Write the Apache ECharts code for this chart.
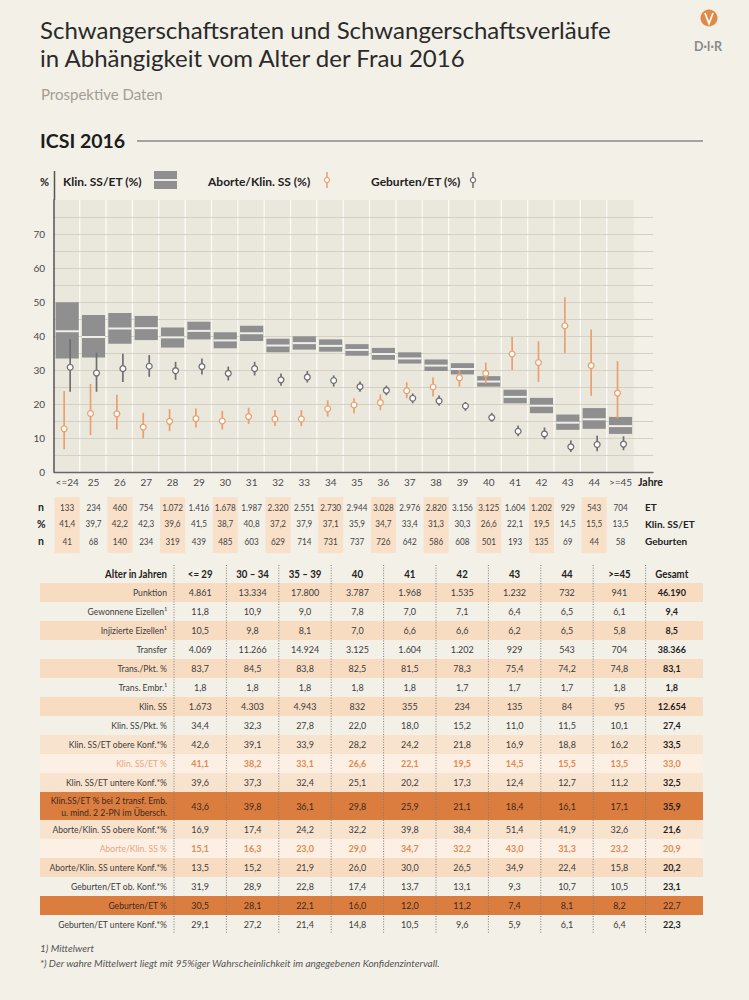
<!DOCTYPE html>
<html><head><meta charset="utf-8">
<script src="https://cdn.jsdelivr.net/npm/echarts@6/dist/echarts.min.js"></script>
<style>html,body{margin:0;padding:0;background:#f3f0e8;}#main{width:749px;height:1000px;}</style>
</head><body><div id="main"></div>
<script>
// ---------- chart data (per age year) ----------
const ageCats = ['<=24','25','26','27','28','29','30','31','32','33','34','35','36','37','38','39','40','41','42','43','44','>=45'];
const etCounts = [133,234,460,754,1072,1416,1678,1987,2320,2551,2730,2944,3028,2976,2820,3156,3125,1604,1202,929,543,704];
const klinSSETpct = [41.4,39.7,42.2,42.3,39.6,41.5,38.7,40.8,37.2,37.9,37.1,35.9,34.7,33.4,31.3,30.3,26.6,22.1,19.5,14.5,15.5,13.5];
const geburtenCounts = [41,68,140,234,319,439,485,603,629,714,731,737,726,642,586,608,501,193,135,69,44,58];
const klinUpper = [49.9,46.2,46.8,45.9,42.5,44.2,41.1,43.0,39.2,39.9,39.0,37.6,36.5,35.2,33.1,32.0,28.2,24.2,21.8,16.9,18.8,16.2];
const klinLower = [33.4,33.7,37.7,38.8,36.6,39.0,36.4,38.5,35.2,36.0,35.4,34.2,33.0,31.9,29.7,28.7,25.1,20.2,17.3,12.4,12.7,11.2];
const aborteMean = [12.7,17.2,17.1,13.2,14.9,15.7,15.0,16.3,15.6,15.6,18.6,19.7,20.4,23.9,25.0,27.7,29.0,34.7,32.2,43.0,31.3,23.2];
const aborteUpper = [23.8,25.9,22.7,17.4,18.5,18.7,18.0,18.9,18.2,18.2,21.1,21.7,22.8,26.4,27.8,30.0,32.2,39.8,38.4,51.4,41.9,32.6];
const aborteLower = [6.7,10.9,12.5,9.9,12.0,13.1,12.5,14.1,13.5,13.5,16.3,17.3,18.2,21.7,22.2,25.1,26.0,30.0,26.5,34.9,22.4,15.8];
const geburtenMean = [30.8,29.1,30.4,31.1,29.8,31.0,29.0,30.4,27.1,27.9,26.9,25.1,24.0,21.7,20.9,19.4,16.0,12.0,11.2,7.4,8.1,8.2];
const geburtenUpper = [39.1,35.1,34.8,34.4,32.4,33.4,31.0,32.4,29.0,29.7,28.4,26.6,25.4,23.1,22.5,20.6,17.4,13.7,13.1,9.3,10.7,10.5];
const geburtenLower = [23.6,23.6,26.5,28.0,27.1,28.7,26.9,28.4,25.4,26.3,25.1,23.6,22.6,20.2,19.5,18.0,14.8,10.5,9.6,5.9,6.1,6.4];
const yTickLabels = [0,10,20,30,40,50,60,70];

// ---------- table data (age groups) ----------
const tableCols = ['<= 29','30 – 34','35 – 39','40','41','42','43','44','>=45','Gesamt'];
const tableRowLabels = ['Punktion','Gewonnene Eizellen¹','Injizierte Eizellen¹','Transfer','Trans./Pkt. %','Trans. Embr.¹','Klin. SS','Klin. SS/Pkt. %','Klin. SS/ET obere Konf.*%','Klin. SS/ET %','Klin. SS/ET untere Konf.*%','Klin.SS/ET % bei 2 transf. Emb.\nu. mind. 2 2-PN im Übersch.','Aborte/Klin. SS obere Konf.*%','Aborte/Klin. SS %','Aborte/Klin. SS untere Konf.*%','Geburten/ET ob. Konf.*%','Geburten/ET %','Geburten/ET untere Konf.*%'];
const punktion = [4861,13334,17800,3787,1968,1535,1232,732,941,46190];
const gewonneneEizellen = [11.8,10.9,9.0,7.8,7.0,7.1,6.4,6.5,6.1,9.4];
const injizierteEizellen = [10.5,9.8,8.1,7.0,6.6,6.6,6.2,6.5,5.8,8.5];
const transfer = [4069,11266,14924,3125,1604,1202,929,543,704,38366];
const transPkt = [83.7,84.5,83.8,82.5,81.5,78.3,75.4,74.2,74.8,83.1];
const transEmbr = [1.8,1.8,1.8,1.8,1.8,1.7,1.7,1.7,1.8,1.8];
const klinSS = [1673,4303,4943,832,355,234,135,84,95,12654];
const klinSSPkt = [34.4,32.3,27.8,22.0,18.0,15.2,11.0,11.5,10.1,27.4];
const klinSSETOben = [42.6,39.1,33.9,28.2,24.2,21.8,16.9,18.8,16.2,33.5];
const klinSSET = [41.1,38.2,33.1,26.6,22.1,19.5,14.5,15.5,13.5,33.0];
const klinSSETUnten = [39.6,37.3,32.4,25.1,20.2,17.3,12.4,12.7,11.2,32.5];
const klinSSET2PN = [43.6,39.8,36.1,29.8,25.9,21.1,18.4,16.1,17.1,35.9];
const aborteOben = [16.9,17.4,24.2,32.2,39.8,38.4,51.4,41.9,32.6,21.6];
const aborte = [15.1,16.3,23.0,29.0,34.7,32.2,43.0,31.3,23.2,20.9];
const aborteUnten = [13.5,15.2,21.9,26.0,30.0,26.5,34.9,22.4,15.8,20.2];
const geburtenOben = [31.9,28.9,22.8,17.4,13.7,13.1,9.3,10.7,10.5,23.1];
const geburten = [30.5,28.1,22.1,16.0,12.0,11.2,7.4,8.1,8.2,22.7];
const geburtenUnten = [29.1,27.2,21.4,14.8,10.5,9.6,5.9,6.1,6.4,22.3];
const tableRows = [punktion,gewonneneEizellen,injizierteEizellen,transfer,transPkt,transEmbr,klinSS,klinSSPkt,klinSSETOben,klinSSET,klinSSETUnten,klinSSET2PN,aborteOben,aborte,aborteUnten,geburtenOben,geburten,geburtenUnten];
const integerRows = [true,false,false,true,false,false,true,false,false,false,false,false,false,false,false,false,false,false];

// ---------- styles / layout ----------
const FONT = "Lato, 'Open Sans', sans-serif";
const BG = '#f3f0e8';
const PEACH = '#f8dcc2', SOFT = '#f8e3cf', PALE = '#fcefe3', DARK = '#dc7d40';
const ORANGE_LINE = '#e9a06c', GRAY_LINE = '#707070';
const rowStyles = [
  {bg:PEACH},{bg:null},{bg:PEACH},{bg:null},{bg:PEACH},{bg:null},{bg:PEACH},{bg:null},
  {bg:SOFT},{bg:PALE,orange:true},{bg:SOFT},{bg:DARK,dark:true,h:28},
  {bg:SOFT},{bg:PALE,orange:true},{bg:PEACH},{bg:null},{bg:DARK,dark:true,gesamtNormal:true},{bg:null}
];
const ROW_H = 19;
const rowHeights = [ROW_H].concat(rowStyles.map(s => s.h || ROW_H)); // header first
const rowTops = []; let acc = 0; rowHeights.forEach(h => { rowTops.push(acc); acc += h; });
const TABLE_H = acc;

const CAT_W = 26.35, CHART_LEFT = 54, CHART_W = 599;
const COL_W = 52.4, TABLE_LEFT = 40, TABLE_W = 663, LABEL_W = 134;

function fmtInt(n){ return String(n).replace(/\B(?=(\d{3})+(?!\d))/g,'.'); }
function fmtDec(n){ return n.toFixed(1).replace('.',','); }
function txt(x, y, text, o){
  o = o || {};
  return {type:'text', x:x, y:y, scaleX:o.sx||1, style:{x:0,y:0,text:text,align:o.align||'center',verticalAlign:'middle',
    fill:o.color||'#3a3a3a',fontSize:o.size||10,fontWeight:o.bold?'bold':'normal',fontStyle:o.italic?'italic':'normal',fontFamily:FONT,lineHeight:o.lh||12}};
}
function gtext(x, y, text, o){
  o = o || {};
  return {type:'text', style:{x:x, y:y, text:text, align:o.align||'left', verticalAlign:'middle', fill:o.color||'#222',
    fontSize:o.size||10.5, fontWeight:o.bold===false?'normal':'bold', fontStyle:o.italic?'italic':'normal', fontFamily:FONT}};
}

const chart = echarts.init(document.getElementById('main'), null, {renderer:'svg', width:749, height:1000});

function bandItem(params, api){
  const i = api.value(0);
  const a = api.coord([i-0.5, 80]), b = api.coord([i+0.5, 0]);
  const ch = [{type:'rect', shape:{x:a[0], y:a[1], width:b[0]-a[0], height:b[1]-a[1]}, style:{fill:'#eae7dd'}}];
  if (i < ageCats.length-1) ch.push({type:'rect', shape:{x:b[0]-1.25, y:a[1], width:2.5, height:b[1]-a[1]}, style:{fill:'#fcfbf8'}});
  return {type:'group', children:ch};
}
function boxItem(params, api){
  const i = api.value(0);
  const lo = api.coord([i, api.value(1)]), hi = api.coord([i, api.value(2)]), m = api.coord([i, api.value(3)]);
  const w = api.size([1,0])[0]*0.88;
  return {type:'group', children:[
    {type:'rect', shape:{x:lo[0]-w/2, y:hi[1], width:w, height:lo[1]-hi[1]}, style:{fill:'#8f8f8f'}},
    {type:'rect', shape:{x:lo[0]-w/2, y:m[1]-1, width:w, height:2}, style:{fill:'#efeeea'}}
  ]};
}
function errItem(dx, color){
  return function(params, api){
    const i = api.value(0);
    const lo = api.coord([i, api.value(1)]), hi = api.coord([i, api.value(2)]), m = api.coord([i, api.value(3)]);
    const x = lo[0] + dx;
    return {type:'group', children:[
      {type:'line', shape:{x1:x, y1:hi[1], x2:x, y2:lo[1]}, style:{stroke:color, lineWidth:1.7}},
      {type:'circle', shape:{cx:x, cy:m[1], r:2.9}, style:{fill:'#ffffff', stroke:color, lineWidth:1.3}}
    ]};
  };
}
function countRowItem(params, api){
  const i = api.value(0);
  const p = api.coord([i, 0]);
  const x = p[0], y0 = p[1];
  const ch = [];
  if (i % 2 === 0) ch.push({type:'rect', shape:{x:x-12.5, y:y0+25, width:25, height:56}, style:{fill:'#f9e0c8'}});
  ch.push(txt(x, y0+35, fmtInt(etCounts[i]), {size:9.5, sx:0.86, color:'#444'}));
  ch.push(txt(x, y0+51.5, fmtDec(klinSSETpct[i]), {size:9.5, sx:0.86, color:'#444'}));
  ch.push(txt(x, y0+69, fmtInt(geburtenCounts[i]), {size:9.5, sx:0.86, color:'#444'}));
  return {type:'group', children:ch};
}
function tableRowItem(params, api){
  const r = api.value(0); // -1 = header
  const k = r + 1;
  const cs = params.coordSys;
  const y0 = api.coord([0, rowTops[k]])[1], y1 = api.coord([0, rowTops[k]+rowHeights[k]])[1];
  const yc = (y0+y1)/2;
  const labelX = api.coord([-0.5, 0])[0] - 7;
  const ch = [];
  if (r < 0){
    ch.push(txt(labelX, yc, 'Alter in Jahren', {align:'right', bold:true, size:10.5, sx:0.92, color:'#222'}));
    tableCols.forEach((c, j) => ch.push(txt(api.coord([j,0])[0], yc, c, {bold:true, size:10.5, sx:0.92, color:'#222'})));
    return {type:'group', children:ch};
  }
  const st = rowStyles[r];
  if (st.bg) ch.push({type:'rect', shape:{x:cs.x, y:y0, width:cs.width, height:y1-y0}, style:{fill:st.bg}});
  const labelColor = st.orange ? '#eaa67c' : (st.dark ? '#3a2a1f' : '#3d3d3d');
  ch.push(txt(labelX, yc, tableRowLabels[r], {align:'right', size:10, sx:0.86, color:labelColor, lh:12}));
  const vals = tableRows[r];
  vals.forEach((v, j) => {
    const s = integerRows[r] ? fmtInt(v) : fmtDec(v);
    const isG = j === vals.length-1;
    let color = st.dark ? '#3a2a1f' : '#3d3d3d', bold = false;
    if (st.orange){ color = '#e08a4f'; bold = true; }
    if (isG && !st.gesamtNormal){ bold = true; if (!st.orange) color = '#1e1e1e'; }
    ch.push(txt(api.coord([j,0])[0], yc, s, {size:10, sx:0.9, bold:bold, color:color}));
  });
  return {type:'group', children:ch};
}
function sepItem(params, api){
  const c = api.value(0);
  const a = api.coord([c-0.5, 0]), b = api.coord([c-0.5, TABLE_H]);
  return {type:'line', shape:{x1:a[0], y1:a[1]+1, x2:b[0], y2:b[1]}, style:{stroke:'#7a7a7a', lineWidth:1, lineDash:[1,1.6]}};
}

const idx = ageCats.map((c,i)=>i);
const option = {
  backgroundColor: BG,
  animation: false,
  textStyle: {fontFamily: FONT},
  title: [
    {text:'Schwangerschaftsraten und Schwangerschaftsverläufe\nin Abhängigkeit vom Alter der Frau 2016', left:40, top:15, padding:0,
     textStyle:{fontSize:24, lineHeight:28, fontWeight:'normal', color:'#2a2a2a', fontFamily:FONT}},
    {text:'Prospektive Daten', left:41, top:86, padding:0, textStyle:{fontSize:15, fontWeight:'normal', color:'#a29e95', fontFamily:FONT}},
    {text:'ICSI 2016', left:40, top:130, padding:0, textStyle:{fontSize:19.5, fontWeight:'bold', color:'#1c1c1c', fontFamily:FONT}}
  ],
  grid: [
    {left:CHART_LEFT, top:200, width:CHART_W, height:272},
    {left:TABLE_LEFT, top:564, width:TABLE_W, height:TABLE_H}
  ],
  xAxis: [
    {type:'value', gridIndex:0, min:-0.5, max:-0.5 + CHART_W/CAT_W, z:3,
     axisLine:{show:true, onZero:false, lineStyle:{color:'#666', width:1.3}}, axisTick:{show:false}, splitLine:{show:false},
     axisLabel:{customValues:idx, formatter:v => ageCats[Math.round(v)] || '', color:'#4a4a4a', fontSize:10, margin:5, fontFamily:FONT}},
    {type:'value', gridIndex:1, min:-0.5 - LABEL_W/COL_W, max:-0.5 - LABEL_W/COL_W + TABLE_W/COL_W, show:false}
  ],
  yAxis: [
    {type:'value', gridIndex:0, min:0, max:80, interval:5, z:3,
     axisLine:{show:true, onZero:false, lineStyle:{color:'#555', width:1.5}}, axisTick:{show:false},
     splitLine:{show:true, showMaxLine:false, showMinLine:false, lineStyle:{color:'#d4d0c4', width:1}},
     axisLabel:{customValues:yTickLabels, color:'#4a4a4a', fontSize:10, margin:9, fontFamily:FONT}},
    {type:'value', gridIndex:1, min:0, max:TABLE_H, inverse:true, show:false}
  ],
  graphic: [
    {type:'line', shape:{x1:137, y1:141, x2:703, y2:141}, style:{stroke:'#8a8a8a', lineWidth:1.4}},
    {type:'circle', shape:{cx:709, cy:18, r:8.5}, style:{fill:'#e08a45'}},
    {type:'polyline', shape:{points:[[705,13],[709,23.5],[713,13]]}, style:{stroke:'#fff', lineWidth:1.7, fill:null}},
    gtext(708, 46, 'D·I·R', {align:'center', color:'#8b8b8b', size:12.5}),
    {type:'line', shape:{x1:54.5, y1:171, x2:54.5, y2:200}, style:{stroke:'#555', lineWidth:1.5}},
    gtext(49, 181, '%', {align:'right', size:11}),
    gtext(63, 181, 'Klin. SS/ET (%)', {size:12}),
    {type:'rect', shape:{x:154, y:171, width:23, height:18}, style:{fill:'#8f8f8f'}},
    {type:'rect', shape:{x:154, y:179, width:23, height:2}, style:{fill:'#efeeea'}},
    gtext(208, 181, 'Aborte/Klin. SS (%)', {size:12}),
    {type:'line', shape:{x1:327, y1:172, x2:327, y2:188}, style:{stroke:ORANGE_LINE, lineWidth:1.5}},
    {type:'circle', shape:{cx:327, cy:180, r:2.6}, style:{fill:'#fff', stroke:ORANGE_LINE, lineWidth:1.2}},
    gtext(371, 181, 'Geburten/ET (%)', {size:12}),
    {type:'line', shape:{x1:473, y1:172, x2:473, y2:188}, style:{stroke:GRAY_LINE, lineWidth:1.5}},
    {type:'circle', shape:{cx:473, cy:180, r:2.6}, style:{fill:'#fff', stroke:GRAY_LINE, lineWidth:1.2}},
    gtext(638, 482, 'Jahre', {size:10.5}),
    gtext(38, 507, 'n'), gtext(37, 523.5, '%'), gtext(38, 541, 'n'),
    gtext(645, 507, 'ET', {size:10}), gtext(645, 523.5, 'Klin. SS/ET', {size:10}), gtext(645, 541, 'Geburten', {size:10}),
    gtext(40, 948, '1) Mittelwert', {bold:false, italic:true, color:'#555', size:10}),
    gtext(40, 963, '*) Der wahre Mittelwert liegt mit 95%iger Wahrscheinlichkeit im angegebenen Konfidenzintervall.', {bold:false, italic:true, color:'#555', size:10})
  ],
  series: [
    {name:'bands', type:'custom', xAxisIndex:0, yAxisIndex:0, z:1, silent:true, clip:false, renderItem:bandItem, data:idx.map(i=>[i,0])},
    {name:'Klin. SS/ET (%)', type:'custom', xAxisIndex:0, yAxisIndex:0, z:5, clip:false, renderItem:boxItem,
     data:idx.map(i=>[i, klinLower[i], klinUpper[i], klinSSETpct[i]])},
    {name:'Aborte/Klin. SS (%)', type:'custom', xAxisIndex:0, yAxisIndex:0, z:6, clip:false, renderItem:errItem(-3, ORANGE_LINE),
     data:idx.map(i=>[i, aborteLower[i], aborteUpper[i], aborteMean[i]])},
    {name:'Geburten/ET (%)', type:'custom', xAxisIndex:0, yAxisIndex:0, z:6, clip:false, renderItem:errItem(3, GRAY_LINE),
     data:idx.map(i=>[i, geburtenLower[i], geburtenUpper[i], geburtenMean[i]])},
    {name:'counts', type:'custom', xAxisIndex:0, yAxisIndex:0, z:4, clip:false, silent:true, renderItem:countRowItem, data:idx.map(i=>[i,0])},
    {name:'table', type:'custom', xAxisIndex:1, yAxisIndex:1, z:2, clip:false, silent:true, renderItem:tableRowItem,
     data:[-1].concat(tableRows.map((r,i)=>i)).map(r=>[r,0])},
    {name:'separators', type:'custom', xAxisIndex:1, yAxisIndex:1, z:3, clip:false, silent:true, renderItem:sepItem,
     data:tableCols.map((c,i)=>[i,0])}
  ]
};
chart.setOption(option);
</script></body></html>
